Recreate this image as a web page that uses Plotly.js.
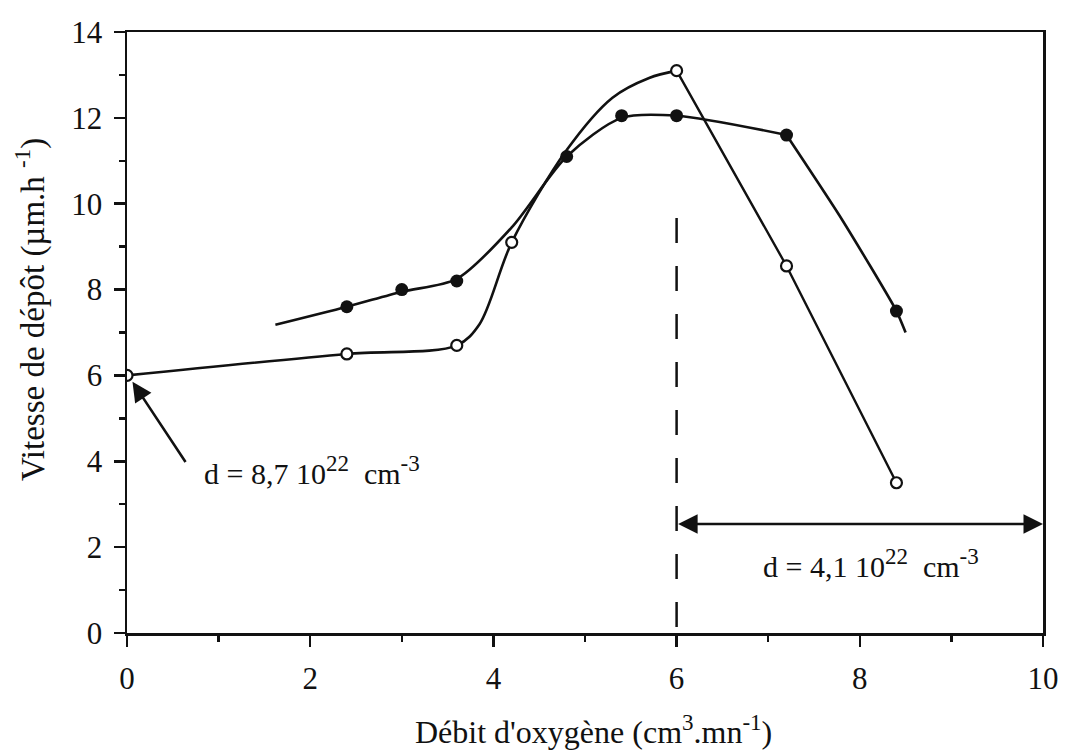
<!DOCTYPE html>
<html>
<head>
<meta charset="utf-8">
<script src="https://cdn.plot.ly/plotly-3.0.1.min.js"></script>
<style>html,body{margin:0;padding:0;background:#fff;}#chart{width:1065px;height:754px;}</style>
</head>
<body>
<div id="chart"></div>
<script>
// Filled-circle series (markers)
const filledX = [2.4, 3.0, 3.6, 4.8, 5.4, 6.0, 7.2, 8.4];
const filledY = [7.6, 8.0, 8.2, 11.1, 12.05, 12.05, 11.6, 7.5];
// Filled-series drawn curve: rising/plateau part and falling part
const filledRiseX = [1.62, 2.4, 3.0, 3.6, 4.2, 4.8, 5.4, 6.0, 7.2];
const filledRiseY = [7.18, 7.6, 7.95, 8.25, 9.45, 11.1, 12.0, 12.05, 11.6];
const filledFallX = [7.2, 7.8, 8.4, 8.5];
const filledFallY = [11.6, 9.65, 7.5, 7.0];

// Open-circle series (markers)
const openX = [0, 2.4, 3.6, 4.2, 6.0, 7.2, 8.4];
const openY = [6.0, 6.5, 6.7, 9.1, 13.1, 8.55, 3.5];
// Open-series drawn curve: smooth rising part and straight falling part
const openRiseX = [0, 2.4, 3.6, 3.85, 4.2, 4.8, 5.3, 5.7, 6.0];
const openRiseY = [6.0, 6.5, 6.7, 7.2, 9.1, 11.25, 12.47, 12.93, 13.1];
const openFallX = [6.0, 7.2, 8.4];
const openFallY = [13.1, 8.55, 3.5];

const xTicks = [0, 2, 4, 6, 8, 10];
const yTicks = [0, 2, 4, 6, 8, 10, 12, 14];

const ink = '#111';
const serif = '"Liberation Serif", "Times New Roman", serif';

const lineStyle = (s) => ({color: ink, width: 2.6, shape: 'spline', smoothing: s});
const traces = [
  {x: filledRiseX, y: filledRiseY, mode: 'lines', line: lineStyle(0.8), hoverinfo: 'skip'},
  {x: filledFallX, y: filledFallY, mode: 'lines', line: lineStyle(0.6), hoverinfo: 'skip'},
  {x: openRiseX, y: openRiseY, mode: 'lines', line: lineStyle(0.9), hoverinfo: 'skip'},
  {x: openFallX, y: openFallY, mode: 'lines', line: {color: ink, width: 2.4}, hoverinfo: 'skip'},
  {x: filledX, y: filledY, mode: 'markers', marker: {symbol: 'circle', size: 13, color: ink, line: {width: 0}}},
  {x: openX, y: openY, mode: 'markers', marker: {symbol: 'circle', size: 11, color: '#fff', line: {color: ink, width: 2.2}}}
];

const sup = (t, s) => '<sup><span style="font-size:' + (s || 23) + 'px">' + t + '</span></sup>';

const layout = {
  width: 1065, height: 754,
  margin: {l: 127, r: 22, t: 32, b: 121},
  paper_bgcolor: '#fff', plot_bgcolor: '#fff',
  showlegend: false,
  font: {family: serif, color: ink, size: 30},
  xaxis: {
    range: [0, 10], tickvals: xTicks, ticktext: xTicks.map(String),
    ticks: 'outside', ticklen: 11, tickwidth: 2.5, tickcolor: ink, ticklabelstandoff: 5,
    minor: {dtick: 1, ticks: 'outside', ticklen: 6, tickwidth: 2.5, tickcolor: ink},
    showline: true, linecolor: ink, linewidth: 2.5, mirror: true,
    showgrid: false, zeroline: false,
    tickfont: {family: serif, size: 31, color: ink}
  },
  yaxis: {
    range: [0, 14], tickvals: yTicks, ticktext: yTicks.map(String),
    ticks: 'outside', ticklen: 11, tickwidth: 2.5, tickcolor: ink, ticklabelstandoff: 5,
    minor: {dtick: 1, ticks: 'outside', ticklen: 6, tickwidth: 2.5, tickcolor: ink},
    showline: true, linecolor: ink, linewidth: 2.5, mirror: true,
    showgrid: false, zeroline: false,
    tickfont: {family: serif, size: 31, color: ink}
  },
  shapes: [
    {type: 'line', xref: 'x', yref: 'y', x0: 6, x1: 6, y0: 9.67, y1: 0, line: {color: ink, width: 2.5, dash: '25px,23px'}}
  ],
  annotations: [
    {px: 31, py: 310, xref: 'paper', yref: 'paper', xanchor: 'center', yanchor: 'middle', showarrow: false, textangle: -90,
     text: 'Vitesse de dépôt (µm.h ' + sup('-1') + ')', font: {family: serif, size: 33, color: ink}},
    {px: 593, py: 730, xref: 'paper', yref: 'paper', xanchor: 'center', yanchor: 'middle', showarrow: false,
     text: "Débit d'oxygène (cm" + sup('3') + ".mn" + sup('-1') + ")", font: {family: serif, size: 32, color: ink}},
    {x: 0.06, y: 5.85, ax: 0.65, ay: 3.95, xref: 'x', yref: 'y', axref: 'x', ayref: 'y',
     text: '', showarrow: true, arrowhead: 2, arrowsize: 1.5, arrowwidth: 2.6, arrowcolor: ink},
    {x: 10, y: 2.54, ax: 6, ay: 2.54, xref: 'x', yref: 'y', axref: 'x', ayref: 'y',
     text: '', showarrow: true, arrowhead: 2, startarrowhead: 2, arrowside: 'end+start',
     arrowsize: 1.5, startarrowsize: 1.5, arrowwidth: 2.6, arrowcolor: ink},
    {x: 2.02, y: 3.78, xref: 'x', yref: 'y', xanchor: 'center', yanchor: 'middle', showarrow: false,
     text: 'd = 8,7 10' + sup('22') + '  cm' + sup('-3'), font: {family: serif, size: 30, color: ink}},
    {x: 8.12, y: 1.63, xref: 'x', yref: 'y', xanchor: 'center', yanchor: 'middle', showarrow: false,
     text: 'd = 4,1 10' + sup('22') + '  cm' + sup('-3'), font: {family: serif, size: 30, color: ink}}
  ]
};

// convert title pixel positions into paper coordinates
const plotW = layout.width - layout.margin.l - layout.margin.r;
const plotH = layout.height - layout.margin.t - layout.margin.b;
layout.annotations.forEach(a => {
  if (a.px !== undefined) {
    a.x = (a.px - layout.margin.l) / plotW;
    a.y = (layout.height - layout.margin.b - a.py) / plotH;
    delete a.px; delete a.py;
  }
});

Plotly.newPlot('chart', traces, layout, {displayModeBar: false, staticPlot: true});
</script>
</body>
</html>
